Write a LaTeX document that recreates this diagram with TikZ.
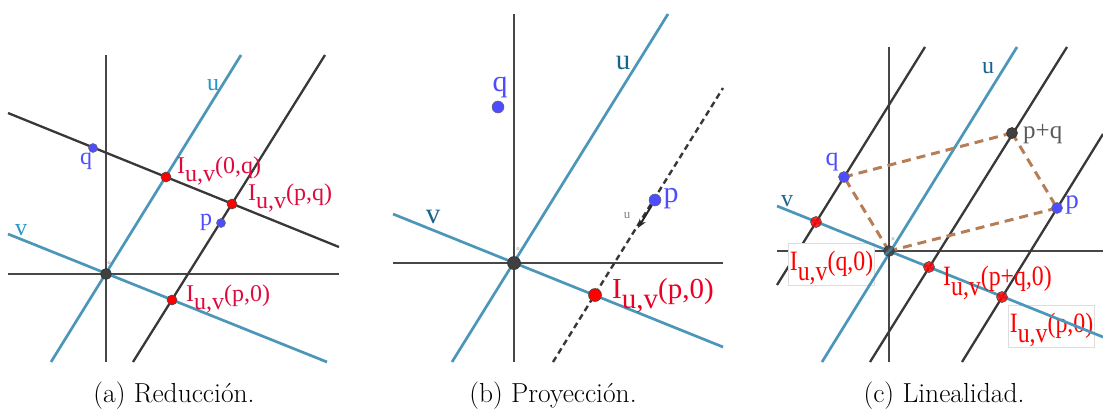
\documentclass[tikz,border=0pt]{standalone}
\usepackage{fontspec}
\newfontfamily\labfont{Liberation Serif}
\usetikzlibrary{arrows.meta}
\definecolor{axisc}{HTML}{474747}
\definecolor{linec}{HTML}{383838}
\definecolor{bluel}{RGB}{75,150,185}
\definecolor{ptblue}{RGB}{77,77,255}
\definecolor{ptred}{RGB}{255,0,0}
\definecolor{crim}{RGB}{222,10,60}
\definecolor{redb}{RGB}{235,0,35}
\definecolor{lblA}{RGB}{35,150,200}
\definecolor{lblB}{RGB}{25,100,140}
\definecolor{brownd}{RGB}{181,126,86}
\definecolor{origc}{HTML}{404040}
\definecolor{boxc}{HTML}{DDDDDD}
\newcommand{\Iuv}[1]{I\raisebox{-0.36em}{u,v}(#1)}
\newcommand{\fsz}[1]{\labfont\fontsize{#1}{#1}\selectfont}
\tikzset{
  axisline/.style={draw=axisc, line width=2.7},
  blkline/.style={draw=linec, line width=2.3},
  bluline/.style={draw=bluel, line width=2.7},
  bdash/.style={draw=brownd, line width=3, dash pattern=on 9 off 6},
  kdash/.style={draw=linec, line width=2.4, dash pattern=on 6 off 4},
  bpt/.style={circle, inner sep=0, minimum size=#1, fill=ptblue, draw=black!60, line width=0.5},
  rpt/.style={circle, inner sep=0, minimum size=#1, fill=ptred, draw=black!70, line width=0.6},
  opt/.style={circle, inner sep=0, minimum size=#1, fill=origc, draw=black!80, line width=0.6},
  lbl/.style={inner sep=0},
  tinylbl/.style={inner sep=0, text=gray, font=\labfont\fontsize{6}{6}\selectfont},
  captxt/.style={inner sep=0, anchor=base, font=\fontsize{27.5}{28}\selectfont},
  ibox/.style={draw=boxc, fill=white, line width=0.8, inner xsep=1.5, inner ysep=1, text height=26, text depth=14}
}
\begin{document}
\begin{tikzpicture}[x=1pt,y=-1pt]
\useasboundingbox (0,0) rectangle (1103,410);
% ================= (a) =================
\coordinate (Oa) at (106,274);
\coordinate (ya1) at (106,55);  \coordinate (ya2) at (106,362);
\coordinate (xa1) at (8,274);   \coordinate (xa2) at (339,274);
\coordinate (ua1) at (51,362);  \coordinate (ua2) at (241,55);
\coordinate (va1) at (8,234);   \coordinate (va2) at (327,362);
\coordinate (qa1) at (8,113);   \coordinate (qa2) at (339,247);
\coordinate (pa1) at (133,362); \coordinate (pa2) at (325,55);
\draw[axisline] (ya1) -- (ya2);
\draw[axisline] (xa1) -- (xa2);
\draw[blkline] (qa1) -- (qa2);
\draw[blkline] (pa1) -- (pa2);
\draw[bluline] (ua1) -- (ua2);
\draw[bluline] (va1) -- (va2);
\node[opt=11] (Oadot) at (Oa) {};
\node[tinylbl] (oa) at (109,263) {o};
\node[bpt=9] (qadot) at (93,148) {};
\node[bpt=9] (padot) at (221,223) {};
\node[rpt=10] (I0qa) at (166,177) {};
\node[rpt=10] (Ipqa) at (232,204) {};
\node[rpt=10] (Ip0a) at (172,300) {};
\node[lbl, text=lblA, font=\fsz{24}] (ula) at (213,85) {u};
\node[lbl, text=lblA, font=\fsz{24}] (vla) at (21,230) {v};
\node[lbl, text=ptblue, font=\fsz{24}] (qla) at (86,161) {q};
\node[lbl, text=ptblue, font=\fsz{24}] (pla) at (206,222) {p};
\node[lbl, text=crim, font=\fsz{24}, anchor=base west] (L0qa) at (177,173) {\Iuv{0,q}};
\node[lbl, text=crim, font=\fsz{24}, anchor=base west] (Lpqa) at (248,200) {\Iuv{p,q}};
\node[lbl, text=crim, font=\fsz{24}, anchor=base west] (Lp0a) at (186,301) {\Iuv{p,0}};
\node[captxt] (capa) at (174,402) {(a) Reducción.};
% ================= (b) =================
\coordinate (Ob) at (514,263);
\coordinate (yb1) at (514,14);  \coordinate (yb2) at (514,362);
\coordinate (xb1) at (393,263); \coordinate (xb2) at (723,263);
\coordinate (ub1) at (452,362); \coordinate (ub2) at (668,14);
\coordinate (vb1) at (393,214); \coordinate (vb2) at (723,347);
\coordinate (db1) at (553,362); \coordinate (db2) at (723,88);
\coordinate (pb) at (655,200);  \coordinate (pbt) at (638,228);
\draw[axisline] (yb1) -- (yb2);
\draw[axisline] (xb1) -- (xb2);
\draw[kdash] (db1) -- (db2);
\draw[bluline] (ub1) -- (ub2);
\draw[bluline] (vb1) -- (vb2);
\draw[draw=black!85, line width=2, -{Stealth[length=9pt,width=7pt]}] (pb) -- (pbt);
\node[opt=13] (Obdot) at (Ob) {};
\node[tinylbl] (ob) at (518,249) {o};
\node[bpt=12] (qbdot) at (498,107) {};
\node[bpt=12] (pbdot) at (pb) {};
\node[rpt=13] (Ip0b) at (595,295) {};
\node[lbl, text=lblB, font=\fsz{29}] (ulb) at (623,63) {u};
\node[lbl, text=lblB, font=\fsz{29}] (vlb) at (433,217) {v};
\node[lbl, text=ptblue, font=\fsz{30}] (qlb) at (500,87) {q};
\node[lbl, text=ptblue, font=\fsz{30}] (plb) at (671,199) {p};
\node[lbl, text=gray, font=\fsz{13}] (uvb) at (627,216) {u};
\node[lbl, text=redb, font=\fsz{29}, anchor=base west] (Lp0b) at (612,298) {\Iuv{p,0}};
\node[captxt] (capb) at (553,402) {(b) Proyección.};
% ================= (c) =================
\coordinate (Oc) at (889,251);
\coordinate (yc1) at (889,47);  \coordinate (yc2) at (889,362);
\coordinate (xc1) at (777,251); \coordinate (xc2) at (1103,251);
\coordinate (uc1) at (822,362); \coordinate (uc2) at (1017,47);
\coordinate (vc1) at (777,206); \coordinate (vc2) at (1103,337);
\coordinate (l1a) at (777,285); \coordinate (l1b) at (925,47);
\coordinate (l2a) at (870,362); \coordinate (l2b) at (1067,47);
\coordinate (l3a) at (962,362); \coordinate (l3b) at (1103,134);
\coordinate (qc) at (844,177);
\coordinate (pc) at (1057,208);
\coordinate (pqc) at (1012,133);
\draw[axisline] (yc1) -- (yc2);
\draw[axisline] (xc1) -- (xc2);
\draw[blkline] (l1a) -- (l1b);
\draw[blkline] (l2a) -- (l2b);
\draw[blkline] (l3a) -- (l3b);
\node[ibox, text=ptred, font=\fsz{28}, anchor=base west] (Lq0c) at (788,270) {\scalebox{0.85}[1]{\Iuv{q,0}}};
\node[ibox, text=ptred, font=\fsz{28}, anchor=base west] (Lp0c) at (1008,332) {\scalebox{0.85}[1]{\Iuv{p,0}}};
\draw[bluline] (uc1) -- (uc2);
\draw[bluline] (vc1) -- (vc2);
\draw[bdash] (qc) -- (pqc);
\draw[bdash] (pqc) -- (pc);
\draw[bdash] (pc) -- (Oc);
\draw[bdash] (Oc) -- (qc);
\node[opt=11, opacity=0.9] (Ocdot) at (Oc) {};
\draw[bluline, opacity=0.6] (Ocdot.south west) -- (Ocdot.north east);
\node[tinylbl] (oc) at (893,239) {o};
\node[bpt=11] (qcdot) at (qc) {};
\node[bpt=11] (pcdot) at (pc) {};
\node[opt=11] (pqcdot) at (pqc) {};
\node[rpt=11, fill opacity=0.85] (Iq0c) at (816,222) {};
\node[rpt=11, fill opacity=0.85] (Ipq0c) at (929,267) {};
\node[rpt=11, fill opacity=0.85] (Ip0c) at (1002,297) {};
\node[lbl, text=lblB, font=\fsz{24}] (ulc) at (988,68) {u};
\node[lbl, text=lblB, font=\fsz{24}] (vlc) at (787,201) {v};
\node[lbl, text=ptblue, font=\fsz{26}] (qlc) at (832,162) {q};
\node[lbl, text=ptblue, font=\fsz{27}] (plc) at (1072,205) {p};
\node[lbl, text=black!65, font=\fsz{25}, anchor=west] (pqlc) at (1023,134) {p+q};
\node[lbl, text=ptred, font=\fsz{28}, anchor=base west] (Lpq0c) at (943,285) {\scalebox{0.85}[1]{\Iuv{p+q,0}}};
\node[captxt] (capc) at (944,402) {(c) Linealidad.};
\end{tikzpicture}
\end{document}
